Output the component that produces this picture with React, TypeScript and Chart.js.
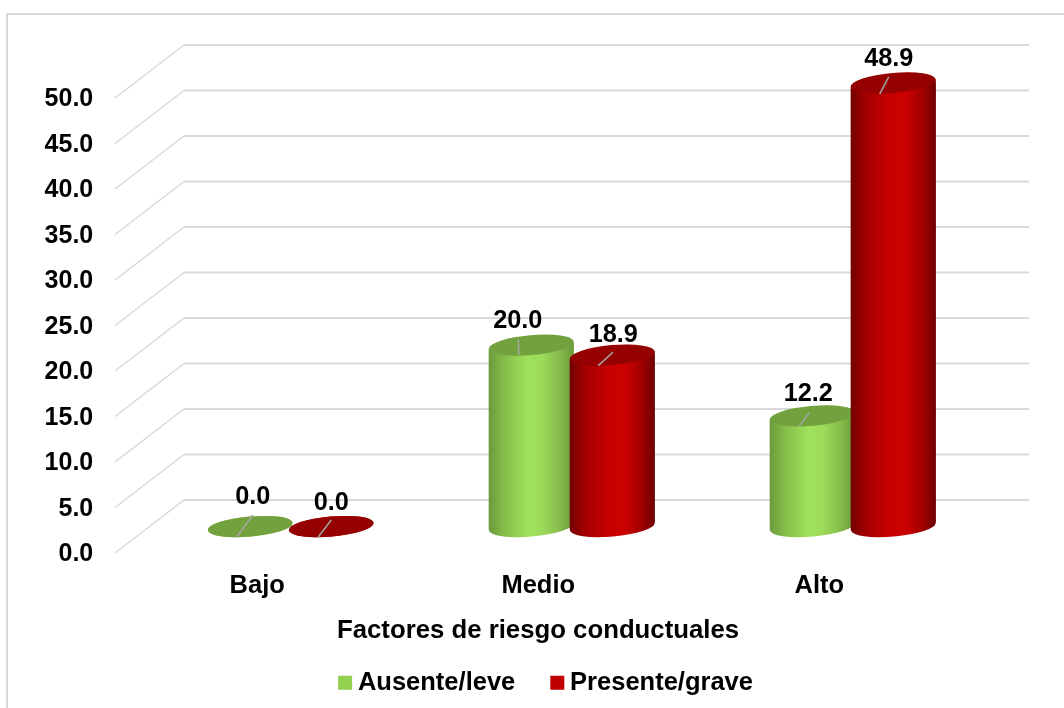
import React, { useEffect, useRef } from "react";
import { Chart, registerables } from "chart.js";

Chart.register(...registerables);

const categories = ["Bajo", "Medio", "Alto"];
const ausenteLeve = [0.0, 20.0, 12.2];
const presenteGrave = [0.0, 18.9, 48.9];
const seriesNames = ["Ausente/leve", "Presente/grave"];
const xAxisTitle = "Factores de riesgo conductuales";

const FONT = "'Liberation Sans', Arial, sans-serif";
const W = 1064;
const H = 708;

// per-point label placement relative to the top of its cylinder: [label dx, label dy, leader x1, y1, x2, y2]
const labelPlacement = [
  [
    [2.5, -29, 2.5, -11.5, -13.5, 10.5],
    [-13.5, -24, -12.8, -6, -12.5, 10],
    [-4, -21.5, -3, -3.5, -13, 10.5],
  ],
  [
    [0, -23, 0, -6.5, -13, 10.5],
    [1, -20.5, 0.7, -2.8, -14, 10.5],
    [-4.5, -24, -4.5, -6, -13.5, 11],
  ],
];

const palettes = [
  {
    top: "#72a13d",
    stops: [[0, "#6c9a3b"], [0.18, "#84bd4a"], [0.45, "#9fe05c"], [0.62, "#9ddc5a"], [0.85, "#82b849"], [1, "#6c9a3b"]],
  },
  {
    top: "#950000",
    stops: [[0, "#740000"], [0.2, "#a80000"], [0.5, "#cb0000"], [0.65, "#cb0000"], [0.85, "#a00000"], [1, "#6e0000"]],
  },
];

const TILT = (-5 * Math.PI) / 180;
const RY = 10;
const DEPTH_X = 69;
const DEPTH_Y = 53;
const FRONT_X = 115;
const BACK_END_X = 1029;

const cylinderPlugin = {
  id: "cylinders",
  afterLayout(chart: any) {
    const legend = chart.legend;
    const title = chart.titleBlock;
    legend.left += 52.4;
    legend.right += 52.4;
    legend.top = 685 - 42 - 15;
    legend.bottom = H;
    title.left += 41.4;
    title.right += 41.4;
    title.top = 631 - title.height / 2;
    title.bottom = title.top + title.height;
  },
  beforeDraw(chart: any) {
    const { ctx } = chart;
    ctx.save();
    ctx.fillStyle = "#ffffff";
    ctx.fillRect(0, 0, W, H);
    ctx.strokeStyle = "#d9d9d9";
    ctx.lineWidth = 2;
    ctx.beginPath();
    ctx.moveTo(7, H);
    ctx.lineTo(7, 14);
    ctx.lineTo(W, 14);
    ctx.stroke();
    ctx.restore();
  },
  beforeDatasetsDraw(chart: any) {
    const { ctx } = chart;
    const y = chart.scales.y;
    ctx.save();
    ctx.strokeStyle = "#d9d9d9";
    y.ticks.forEach((t: any) => {
      const py = y.getPixelForValue(t.value);
      ctx.lineWidth = 1.4;
      ctx.beginPath();
      ctx.moveTo(FRONT_X, py);
      ctx.lineTo(FRONT_X + DEPTH_X, py - DEPTH_Y);
      ctx.stroke();
      ctx.lineWidth = 1.8;
      ctx.beginPath();
      ctx.moveTo(FRONT_X + DEPTH_X, py - DEPTH_Y);
      ctx.lineTo(BACK_END_X, py - DEPTH_Y);
      ctx.stroke();
    });
    ctx.restore();
  },
  beforeDatasetDraw() {
    return false;
  },
  afterDatasetsDraw(chart: any) {
    const { ctx } = chart;
    chart.data.datasets.forEach((_: any, d: number) => {
      const meta = chart.getDatasetMeta(d);
      const pal = palettes[d];
      meta.data.forEach((bar: any) => {
        const rx = bar.width / 2;
        const xl = bar.x - rx;
        const xr = bar.x + rx;
        const dy = rx * Math.sin(-TILT);
        const grad = ctx.createLinearGradient(xl, 0, xr, 0);
        pal.stops.forEach(([o, c]: any) => grad.addColorStop(o, c));
        const side = new Path2D();
        side.moveTo(xl, bar.y + dy);
        side.lineTo(xr, bar.y - dy);
        side.lineTo(xr, bar.base - dy);
        side.lineTo(xl, bar.base + dy);
        side.closePath();
        side.ellipse(bar.x, bar.base, rx, RY, TILT, 0, Math.PI * 2);
        ctx.save();
        ctx.fillStyle = grad;
        ctx.fill(side, "nonzero");
        ctx.clip(side, "nonzero");
        bar.options = { ...bar.options, backgroundColor: grad, borderWidth: 0 };
        bar.draw(ctx);
        ctx.restore();
        ctx.save();
        ctx.fillStyle = pal.top;
        ctx.beginPath();
        ctx.ellipse(bar.x, bar.y, rx, RY, TILT, 0, Math.PI * 2);
        ctx.fill();
        ctx.restore();
      });
    });
    ctx.save();
    chart.data.datasets.forEach((ds: any, d: number) => {
      const meta = chart.getDatasetMeta(d);
      meta.data.forEach((bar: any, i: number) => {
        const [lx, ly, x1, y1, x2, y2] = labelPlacement[d][i];
        ctx.strokeStyle = "#a6a6a6";
        ctx.lineWidth = 1.5;
        ctx.beginPath();
        ctx.moveTo(bar.x + x1, bar.y + y1);
        ctx.lineTo(bar.x + x2, bar.y + y2);
        ctx.stroke();
        ctx.fillStyle = "#000000";
        ctx.font = `bold 25.3px ${FONT}`;
        ctx.textAlign = "center";
        ctx.textBaseline = "middle";
        ctx.fillText(Number(ds.data[i]).toFixed(1), bar.x + lx, bar.y + ly);
      });
    });
    ctx.restore();
  },
};

export default function App() {
  const ref = useRef<HTMLCanvasElement | null>(null);

  useEffect(() => {
    document.body.style.margin = "0";
    const chart = new Chart(ref.current as HTMLCanvasElement, {
      type: "bar",
      data: {
        labels: categories,
        datasets: [
          { label: seriesNames[0], data: ausenteLeve, backgroundColor: "#92d050", yAxisID: "yBars" },
          { label: seriesNames[1], data: presenteGrave, backgroundColor: "#c00000", yAxisID: "yBars" },
        ],
      } as any,
      options: {
        responsive: false,
        animation: false,
        datasets: { bar: { categoryPercentage: 0.5765, barPercentage: 1.05, borderWidth: 0, clip: false } },
        layout: { padding: { top: 98, left: 0, right: 70.75, bottom: 0 } },
        scales: {
          x: {
            type: "category",
            grid: { display: false, drawTicks: false },
            border: { display: false },
            ticks: {
              color: "#000000",
              font: { family: FONT, size: 25.5, weight: "bold" },
              padding: 18,
              labelOffset: -33.5,
              maxRotation: 0,
              autoSkip: false,
            },
            afterFit(s: any) {
              s.height = 155 - (s.chart.legend?.height ?? 30) - (s.chart.titleBlock?.height ?? 50);
            },
          },
          y: {
            position: "left",
            min: 0,
            max: 50,
            grid: { display: false, drawTicks: false },
            border: { display: false },
            ticks: {
              stepSize: 5,
              color: "#000000",
              font: { family: FONT, size: 25, weight: "bold" },
              padding: 57,
              labelOffset: 1.5,
              callback: (v: any) => Number(v).toFixed(1),
            },
            afterFit(s: any) {
              s.width = 150.25;
            },
          },
          yBars: {
            display: false,
            min: -2.92,
            max: 47.24,
          },
        },
        plugins: {
          tooltip: { enabled: false },
          title: {
            display: true,
            text: xAxisTitle,
            position: "bottom",
            weight: 1000,
            color: "#000000",
            font: { family: FONT, size: 25.75, weight: "bold" },
            padding: 10,
          },
          legend: {
            display: true,
            position: "bottom",
            weight: 2000,
            maxHeight: 30,
            labels: {
              color: "#000000",
              font: { family: FONT, size: 25.5, weight: "bold" },
              usePointStyle: true,
              pointStyle: "rect",
              boxWidth: 0.1,
              boxHeight: 14,
              padding: 42,
            },
          },
        },
      } as any,
      plugins: [cylinderPlugin as any],
    });
    return () => chart.destroy();
  }, []);

  return <canvas ref={ref} width={W} height={H} style={{ display: "block" }} />;
}
